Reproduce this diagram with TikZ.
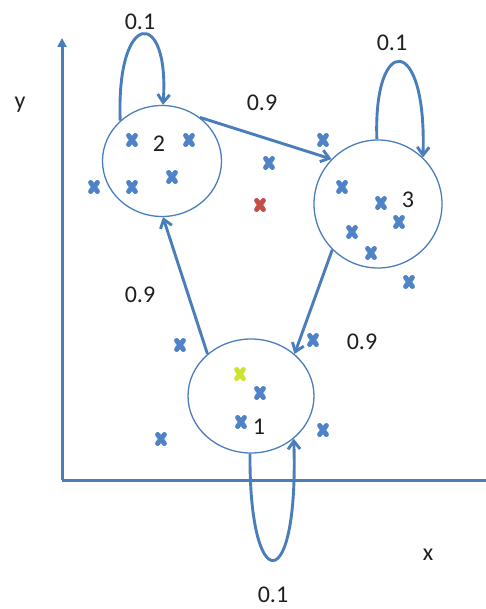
\documentclass[tikz,border=0pt]{standalone}
\usepackage{fontspec}
\setmainfont{Carlito}
\usetikzlibrary{arrows.meta,shapes.geometric}
\definecolor{lnblue}{RGB}{74,126,187}
\definecolor{xblue}{RGB}{79,131,200}
\definecolor{xred}{RGB}{196,78,74}
\definecolor{xyellow}{RGB}{206,226,50}
\tikzset{
  cluster/.style={ellipse, draw=lnblue, line width=1.3pt, inner sep=0pt},
  trans/.style={draw=lnblue, line width=2.9pt, -{Straight Barb[length=8pt,width=12pt]}},
  axisline/.style={draw=lnblue, line width=3pt},
  lbl/.style={font=\fontsize{24}{26}\selectfont, text=black!88, inner sep=0pt},
  xm/.pic={\draw[line width=5pt, line cap=round, #1] (-3.4,-4.5)--(3.4,4.5) (-3.4,4.5)--(3.4,-4.5);}
}
\begin{document}
\begin{tikzpicture}[x=1pt,y=-1pt]
\useasboundingbox (0,0) rectangle (485,609);
% axes
\coordinate (o) at (62,480);
\coordinate (ytop) at (62,38);
\coordinate (xend) at (486,480);
\draw[axisline, -{Triangle[length=9pt,width=9pt]}] (o) -- (ytop);
\draw[axisline] (o) -- (xend);
\node[lbl] (ylab) at (20,105) {y};
\node[lbl] (xlab) at (428,555) {x};
% clusters
\node[cluster, minimum width=119pt, minimum height=111pt] (c2) at (162,161) {};
\node[cluster, minimum width=128pt, minimum height=128pt] (c3) at (378,204) {};
\node[cluster, minimum width=126pt, minimum height=114pt] (c1) at (251,396) {};
\node[lbl] (n2) at (159,144) {2};
\node[lbl] (n3) at (408,200) {3};
\node[lbl] (n1) at (259,427) {1};
% transitions
\draw[trans] (c1.136) -- (c2.271);
\draw[trans] (c2.49) -- (c3.136);
\draw[trans] (c3.225) -- (c1.44);
\draw[trans] (c2.136) .. controls (116,8) and (170,8) .. (c2.89);
\draw[trans] (c3.91) .. controls (373,33) and (427,33) .. (c3.46);
\draw[trans] (c1.269) .. controls (249,598) and (299,598) .. (c1.-45);
% labels
\node[lbl] (l21) at (140,22) {0.1};
\node[lbl] (l23) at (262,103) {0.9};
\node[lbl] (l33) at (392,43) {0.1};
\node[lbl] (l12) at (140,295) {0.9};
\node[lbl] (l31) at (362,342) {0.9};
\node[lbl] (l11) at (273,595) {0.1};
% data points
\foreach \p in {(132,140),(189,140),(172,177),(132,187),(94,187),
  (323,140),(269,163),
  (342,187),(381,203),(399,222),(352,232),(371,253),(409,282),
  (180,345),(313,340),(260,393),(241,422),(323,430),(161,439)}
  \pic at \p {xm=xblue};
\pic at (260,205) {xm=xred};
\pic at (240,374) {xm=xyellow};
\end{tikzpicture}
\end{document}
